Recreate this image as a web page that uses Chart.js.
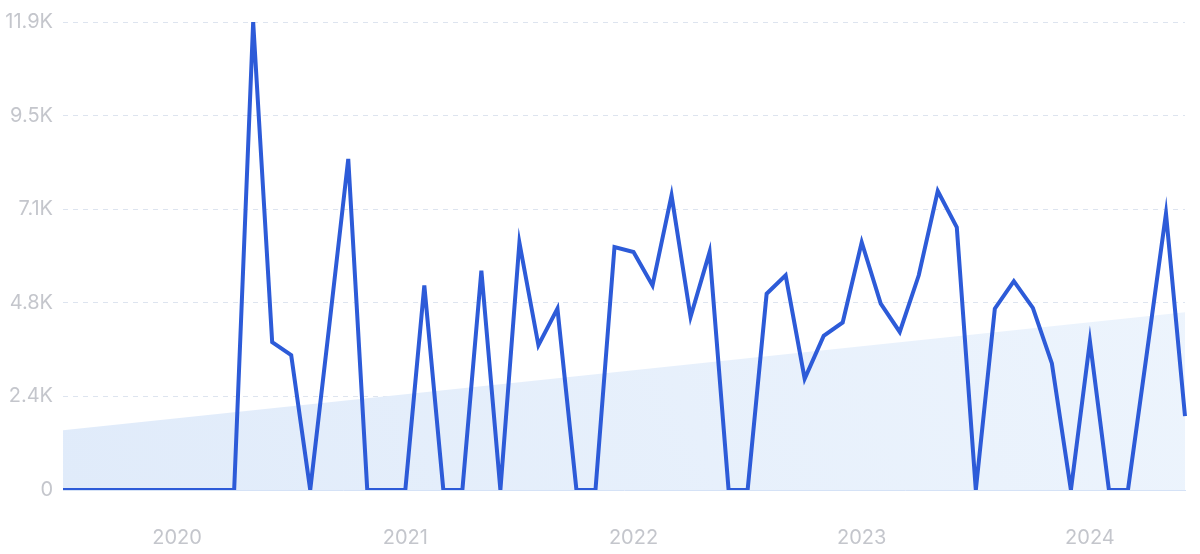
<!DOCTYPE html>
<html>
<head>
<meta charset="utf-8">
<script src="https://cdn.jsdelivr.net/npm/chart.js@4"></script>
<style>
    html, body { margin: 0; padding: 0; background: #ffffff; }
    .wrap { position: relative; width: 1200px; height: 554px; }
</style>
</head>
<body>
<div class="wrap"><canvas id="chartTrend"></canvas></div>
<script>
// Meses (jul/2019 a jun/2024)
const months = [
    '2019-07', '2019-08', '2019-09', '2019-10', '2019-11', '2019-12',
    '2020-01', '2020-02', '2020-03', '2020-04', '2020-05', '2020-06',
    '2020-07', '2020-08', '2020-09', '2020-10', '2020-11', '2020-12',
    '2021-01', '2021-02', '2021-03', '2021-04', '2021-05', '2021-06',
    '2021-07', '2021-08', '2021-09', '2021-10', '2021-11', '2021-12',
    '2022-01', '2022-02', '2022-03', '2022-04', '2022-05', '2022-06',
    '2022-07', '2022-08', '2022-09', '2022-10', '2022-11', '2022-12',
    '2023-01', '2023-02', '2023-03', '2023-04', '2023-05', '2023-06',
    '2023-07', '2023-08', '2023-09', '2023-10', '2023-11', '2023-12',
    '2024-01', '2024-02', '2024-03', '2024-04', '2024-05', '2024-06'
];

// Volume mensal
const volume = [
    0, 0, 0, 0, 0, 0, 0, 0, 0, 0,
    11900, 3760, 3430, 0, 4170, 8420, 0, 0, 0, 5200,
    0, 0, 5580, 0, 6290, 3680, 4610, 0, 0, 6180,
    6050, 5200, 7490, 4400, 6050, 0, 0, 4990, 5460, 2830,
    3920, 4260, 6300, 4740, 4020, 5460, 7600, 6680, 0, 4610,
    5310, 4630, 3220, 0, 3780, 0, 0, 3500, 7030, 1880
];

// Linha de tendência (início e fim)
const trendStart = 1520;
const trendEnd = 4520;

// Ticks do eixo Y
const yTicks = [0, 2380, 4760, 7140, 9520, 11900];

document.addEventListener('DOMContentLoaded', function () {

    function kFormat(v) {
        if (v === 0) return '0';
        return (v / 1000).toFixed(1) + 'K';
    }

    // Gradiente da área de tendência
    function trendFill(context) {
        const chart = context.chart;
        const area = chart.chartArea;
        if (!area) return 'rgba(226, 236, 250, 1)';
        const g = chart.ctx.createLinearGradient(area.left, area.bottom, area.right, area.top);
        g.addColorStop(0, '#e0ebfa');
        g.addColorStop(1, '#eef5fd');
        return g;
    }

    const el = document.getElementById('chartTrend');
    new Chart(el.getContext('2d'), {
        type: 'line',
        data: {
            labels: months,
            datasets: [{
                label: 'Volume',
                data: volume,
                borderColor: '#2d5bd8',
                borderWidth: 4,
                pointRadius: 0,
                tension: 0,
                fill: false,
                order: 1
            }, {
                label: 'Tendência',
                data: [
                    { x: months[0], y: trendStart },
                    { x: months[months.length - 1], y: trendEnd }
                ],
                borderWidth: 0,
                borderColor: 'rgba(0,0,0,0)',
                backgroundColor: trendFill,
                pointRadius: 0,
                fill: 'origin',
                order: 2
            }]
        },
        options: {
            responsive: true,
            maintainAspectRatio: false,
            animation: false,
            layout: { padding: { top: 21, right: 15, left: 0, bottom: 0 } },
            plugins: {
                legend: { display: false },
                tooltip: { enabled: false }
            },
            scales: {
                x: {
                    offset: false,
                    grid: { display: false, drawTicks: false },
                    border: { display: true, color: '#d5e2f6', width: 1 },
                    ticks: {
                        autoSkip: false,
                        maxRotation: 0,
                        padding: 36,
                        color: '#c4c6cc',
                        font: { family: 'Inter', size: 20 },
                        callback: function (value, index) {
                            const m = months[index];
                            return m.endsWith('-01') ? m.slice(0, 4) : '';
                        }
                    },
                    afterFit: scale => {
                        scale.height = 64;
                        scale.paddingLeft = 0;
                        scale.paddingRight = 0;
                    }
                },
                y: {
                    min: 0,
                    max: 11900,
                    afterBuildTicks: scale => {
                        scale.ticks = yTicks.map(v => ({ value: v }));
                    },
                    grid: {
                        drawTicks: false,
                        color: ctx => ctx.tick && ctx.tick.value === 0 ? 'rgba(0,0,0,0)' : '#dde4ef',
                        lineWidth: 1
                    },
                    border: { display: false, dash: [5, 5] },
                    ticks: {
                        padding: 10,
                        color: '#c4c6cc',
                        font: { family: 'Inter', size: 20 },
                        callback: value => kFormat(value)
                    },
                    afterFit: scale => { scale.width = 63; }
                }
            }
        }
    });
});
</script>
</body>
</html>
